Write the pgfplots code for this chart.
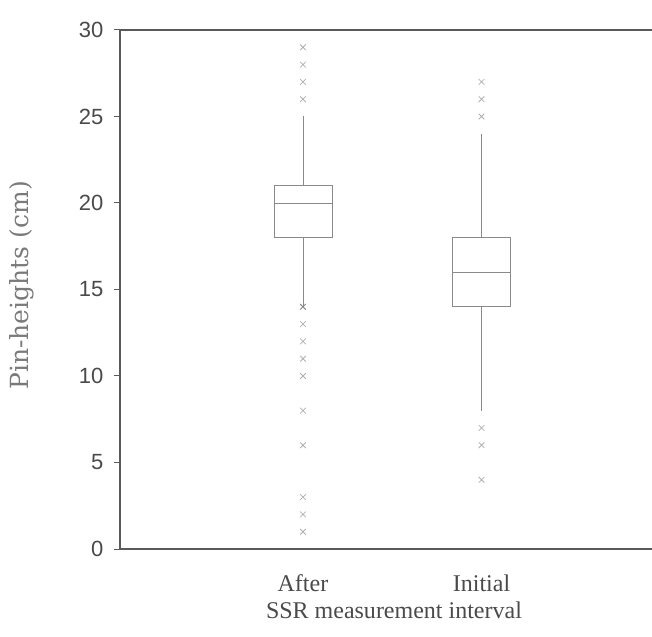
\documentclass[border=0pt]{standalone}
\usepackage{fontspec}
\setmainfont{Liberation Serif}
\newfontfamily\numfont{Liberation Sans}
\newfontfamily\labfont{DejaVu Serif}
\usepackage{pgfplots}
\pgfplotsset{compat=1.18}
\usetikzlibrary{calc}
\definecolor{axisc}{HTML}{5A5A5A}
\definecolor{boxc}{HTML}{8A8A8A}
\definecolor{outc}{HTML}{B0B0B0}
\definecolor{textc}{HTML}{4A4A4A}
\definecolor{labc}{HTML}{7A7A7A}
\begin{document}
\begin{tikzpicture}
\begin{axis}[
  scale only axis,
  width=532pt, height=519pt,
  xmin=-0.025, xmax=2.955,
  ymin=0, ymax=30,
  axis x line=box, axis y line=left,
  axis line style={-, axisc, line width=1.2pt},
  ytick={0,5,10,15,20,25,30},
  xtick={1,2}, xticklabels={After,Initial},
  x tick style={draw=none},
  y tick style={axisc, line width=1pt},
  tick align=outside, major tick length=6pt,
  /pgf/number format/assume math mode=true,
  yticklabel style={font=\numfont\fontsize{22}{22}\selectfont, text=textc, xshift=-7pt},
  xticklabel style={font=\fontsize{24}{24}\selectfont, text=textc, yshift=-16pt},
  xlabel={SSR measurement interval},
  ylabel={Pin-heights (cm)},
  xlabel style={font=\fontsize{24}{24}\selectfont, text=textc, at={(axis description cs:0.515,-0.1175)}, anchor=center},
  ylabel style={font=\labfont\fontsize{25}{25}\selectfont, text=labc, at={(axis description cs:-0.184,0.508)}, anchor=center},
  clip=false,
]
% After: box (Q1=18, median=20, Q3=21), whiskers 14..25
\addplot[draw=boxc, line width=0.9pt, mark=none] coordinates {(0.8375,18) (1.1625,18) (1.1625,21) (0.8375,21) (0.8375,18)};
\addplot[draw=boxc, line width=0.9pt, mark=none] coordinates {(0.8375,20) (1.1625,20)};
\addplot[draw=boxc, line width=0.9pt, mark=none] coordinates {(1,21) (1,25)};
\addplot[draw=boxc, line width=0.9pt, mark=none] coordinates {(1,18) (1,14)};
\addplot[only marks, mark=x, mark size=4pt, mark options={draw=outc, line width=0.8pt}]
  coordinates {(1,29) (1,28) (1,27) (1,26) (1,13) (1,12) (1,11) (1,10) (1,8) (1,6) (1,3) (1,2) (1,1)};
\addplot[only marks, mark=x, mark size=4pt, mark options={draw=boxc, line width=1pt}]
  coordinates {(1,14)};
% Initial: box (Q1=14, median=16, Q3=18), whiskers 8..24
\addplot[draw=boxc, line width=0.9pt, mark=none] coordinates {(1.8375,14) (2.1625,14) (2.1625,18) (1.8375,18) (1.8375,14)};
\addplot[draw=boxc, line width=0.9pt, mark=none] coordinates {(1.8375,16) (2.1625,16)};
\addplot[draw=boxc, line width=0.9pt, mark=none] coordinates {(2,18) (2,24)};
\addplot[draw=boxc, line width=0.9pt, mark=none] coordinates {(2,14) (2,8)};
\addplot[only marks, mark=x, mark size=4pt, mark options={draw=outc, line width=0.8pt}]
  coordinates {(2,27) (2,26) (2,25) (2,7) (2,6) (2,4)};
\end{axis}
\pgfresetboundingbox
\path[use as bounding box] ($(current axis.south west)+(-120pt,-87pt)$) rectangle ($(current axis.north east)+(0pt,30pt)$);
\end{tikzpicture}
\end{document}
